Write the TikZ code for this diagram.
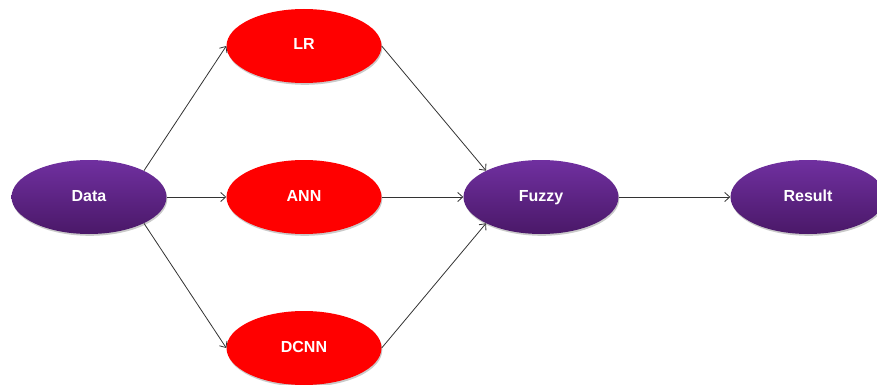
\documentclass[tikz,border=0pt]{standalone}
\usepackage{fontspec}
\setmainfont{Liberation Sans}
\usetikzlibrary{arrows.meta,shadows,shapes.geometric}
\definecolor{purptop}{HTML}{7030A0}
\definecolor{purpbot}{HTML}{4A1868}
\definecolor{linegray}{HTML}{333333}
\tikzset{
  ell/.style={ellipse, minimum width=155pt, minimum height=74pt, inner sep=0pt,
    font=\fontsize{16pt}{18pt}\selectfont\bfseries, text=white,
    text height=11.5pt, text depth=3.5pt,
    drop shadow={shadow xshift=0.8pt, shadow yshift=-1.8pt, opacity=0.35, fill=black!60}},
  rednode/.style={ell, fill=red},
  purpnode/.style={ell, top color=purptop, bottom color=purpbot},
  conn/.style={draw=linegray, line width=0.8pt, -{Straight Barb[length=5pt,width=9pt,line width=0.8pt]}}
}
\begin{document}
\begin{tikzpicture}[x=1pt,y=-1pt]
\useasboundingbox (0,0) rectangle (877,385);
\node[purpnode] (data) at (89,197) {Data};
\node[rednode] (lr) at (304,46) {LR};
\node[rednode] (ann) at (304,197) {ANN};
\node[rednode] (dcnn) at (304,348) {DCNN};
\node[purpnode] (fuzzy) at (541,197) {Fuzzy};
\node[purpnode] (result) at (808,197) {Result};
\draw[conn] (data.north east) -- (lr.west);
\draw[conn] (data.east) -- (ann.west);
\draw[conn] (data.south east) -- (dcnn.west);
\draw[conn] (lr.east) -- (fuzzy.north west);
\draw[conn] (ann.east) -- (fuzzy.west);
\draw[conn] (dcnn.east) -- (fuzzy.south west);
\draw[conn] (fuzzy.east) -- (result.west);
\end{tikzpicture}
\end{document}
